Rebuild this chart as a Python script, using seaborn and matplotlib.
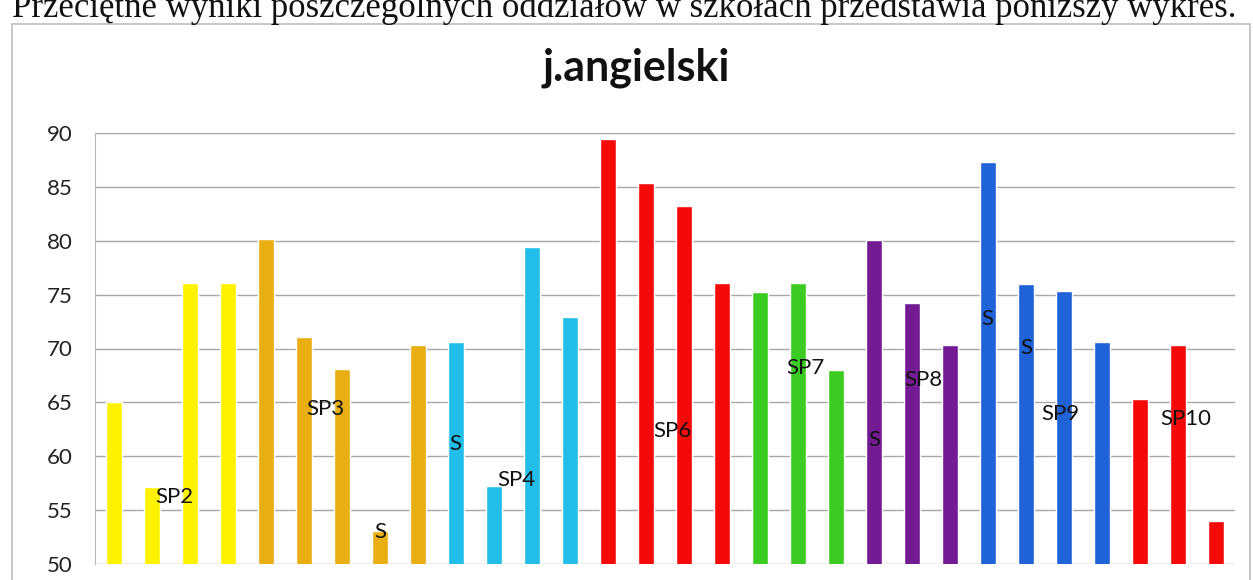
import pandas as pd
import matplotlib.pyplot as plt
import seaborn as sns
from matplotlib.patches import Rectangle

# Values
schools = ["SP2"] * 4 + ["SP3"] * 5 + ["SP4"] * 4 + ["SP6"] * 4 + ["SP7"] * 3 \
    + ["SP8"] * 3 + ["SP9"] * 4 + ["SP10"] * 3
scores = [65.0, 57.1, 76.1, 76.1,
          80.2, 71.1, 68.1, 53.1, 70.3,
          70.6, 57.2, 79.4, 72.9,
          89.4, 85.4, 83.2, 76.1,
          75.2, 76.1, 68.0,
          80.1, 74.2, 70.3,
          87.3, 76.0, 75.3, 70.6,
          65.3, 70.3, 54.0]
school_colors = {"SP2": "#FFF200", "SP3": "#E8AE12", "SP4": "#22BDE8",
                 "SP6": "#F50A0A", "SP7": "#3CCB22", "SP8": "#731B93",
                 "SP9": "#2062D8", "SP10": "#F50A0A"}

# in-plot text labels (category position, value)
label_texts = ["SP2", "SP3", "S", "S", "SP4", "SP6", "SP7", "S", "SP8", "S", "S", "SP9", "SP10"]
label_x = [1.6, 5.55, 7.0, 8.97, 10.58, 14.7, 18.2, 20.0, 21.3, 22.97, 24.0, 24.9, 28.2]
label_y = [56.2, 64.4, 53.0, 61.1, 57.8, 62.3, 68.2, 61.5, 67.1, 72.7, 70.0, 63.9, 63.5]

df = pd.DataFrame({"bar": [f"b{i}" for i in range(len(scores))],
                   "school": schools, "score": scores})
bar_palette = {b: school_colors[s] for b, s in zip(df["bar"], df["school"])}

sns.set_style("white")
plt.rcParams["font.family"] = ["Lato", "DejaVu Sans"]

fig = plt.figure(figsize=(12.53, 5.8), dpi=100)
ax = fig.add_axes([95 / 1253, 1 - 564 / 580, (1235 - 95) / 1253, (564 - 133) / 580])

sns.barplot(data=df, x="bar", y="score", hue="bar", palette=bar_palette,
            legend=False, width=0.42, saturation=1, ax=ax)

ax.set_ylim(50, 90)
ax.set_yticks(range(50, 91, 5))
ax.set_xlim(-0.5, len(scores) - 0.5)
ax.set_xticks([])
ax.set_xlabel("")
ax.set_ylabel("")
ax.yaxis.grid(True, color="#A8A8A8", linewidth=1.0)
ax.set_axisbelow(True)
for side in ["top", "right", "bottom"]:
    ax.spines[side].set_visible(False)
ax.spines["left"].set_color("#B8B8B8")
ax.tick_params(axis="y", length=4, color="#A8A8A8", pad=12, labelsize=16,
               labelcolor="#222222")

for t, x, y in zip(label_texts, label_x, label_y):
    ax.text(x, y, t, ha="center", va="center", fontsize=16, color="#111111")

# chart frame and title
fig.patches.append(Rectangle((12 / 1253, -0.02), 1238 / 1253, 1 - 24 / 580 + 0.02,
                             transform=fig.transFigure, fill=False,
                             edgecolor="#BDBDBD", linewidth=1.2))
fig.text(636 / 1253, 1 - 68 / 580, "j.angielski", ha="center", va="center",
         fontsize=31, fontweight="bold", color="#111111")

# caption line, partly cut off by the scan
fig.text(12 / 1253, 1 - 17 / 580,
         "Przeciętne wyniki poszczególnych oddziałów w szkołach przedstawia poniższy wykres.",
         ha="left", va="baseline", fontsize=25, family="Liberation Serif", color="#111111")

fig.savefig("out.png", dpi=100)
